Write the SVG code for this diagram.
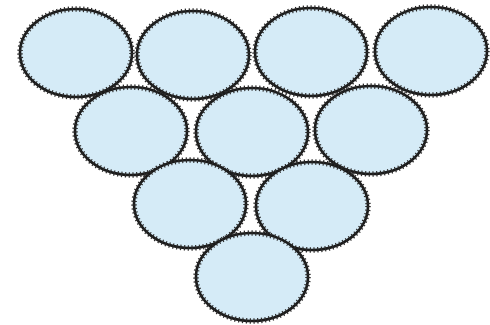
<svg xmlns="http://www.w3.org/2000/svg" width="490" height="325" viewBox="0 0 490 325">
<style>
.b{fill:#d5ebf7;stroke:#1a1a1a;stroke-width:2.6}
.t{fill:none;stroke:#2a2a2a;stroke-width:5.5;stroke-dasharray:1.2 2.6}
</style>
<defs>
<g id="ball"><ellipse class="b" cx="0" cy="0" rx="56" ry="44"/><ellipse class="t" cx="0" cy="0" rx="56" ry="44"/></g>
</defs>
<rect width="490" height="325" fill="#fff"/>
<g id="n1"><use href="#ball" x="76" y="53"/></g>
<g id="n2"><use href="#ball" x="193" y="55"/></g>
<g id="n3"><use href="#ball" x="311" y="52"/></g>
<g id="n4"><use href="#ball" x="431" y="51"/></g>
<g id="n5"><use href="#ball" x="131" y="131"/></g>
<g id="n6"><use href="#ball" x="252" y="132"/></g>
<g id="n7"><use href="#ball" x="371" y="130"/></g>
<g id="n8"><use href="#ball" x="190" y="204"/></g>
<g id="n9"><use href="#ball" x="312" y="206"/></g>
<g id="n10"><use href="#ball" x="252" y="277"/></g>
</svg>
